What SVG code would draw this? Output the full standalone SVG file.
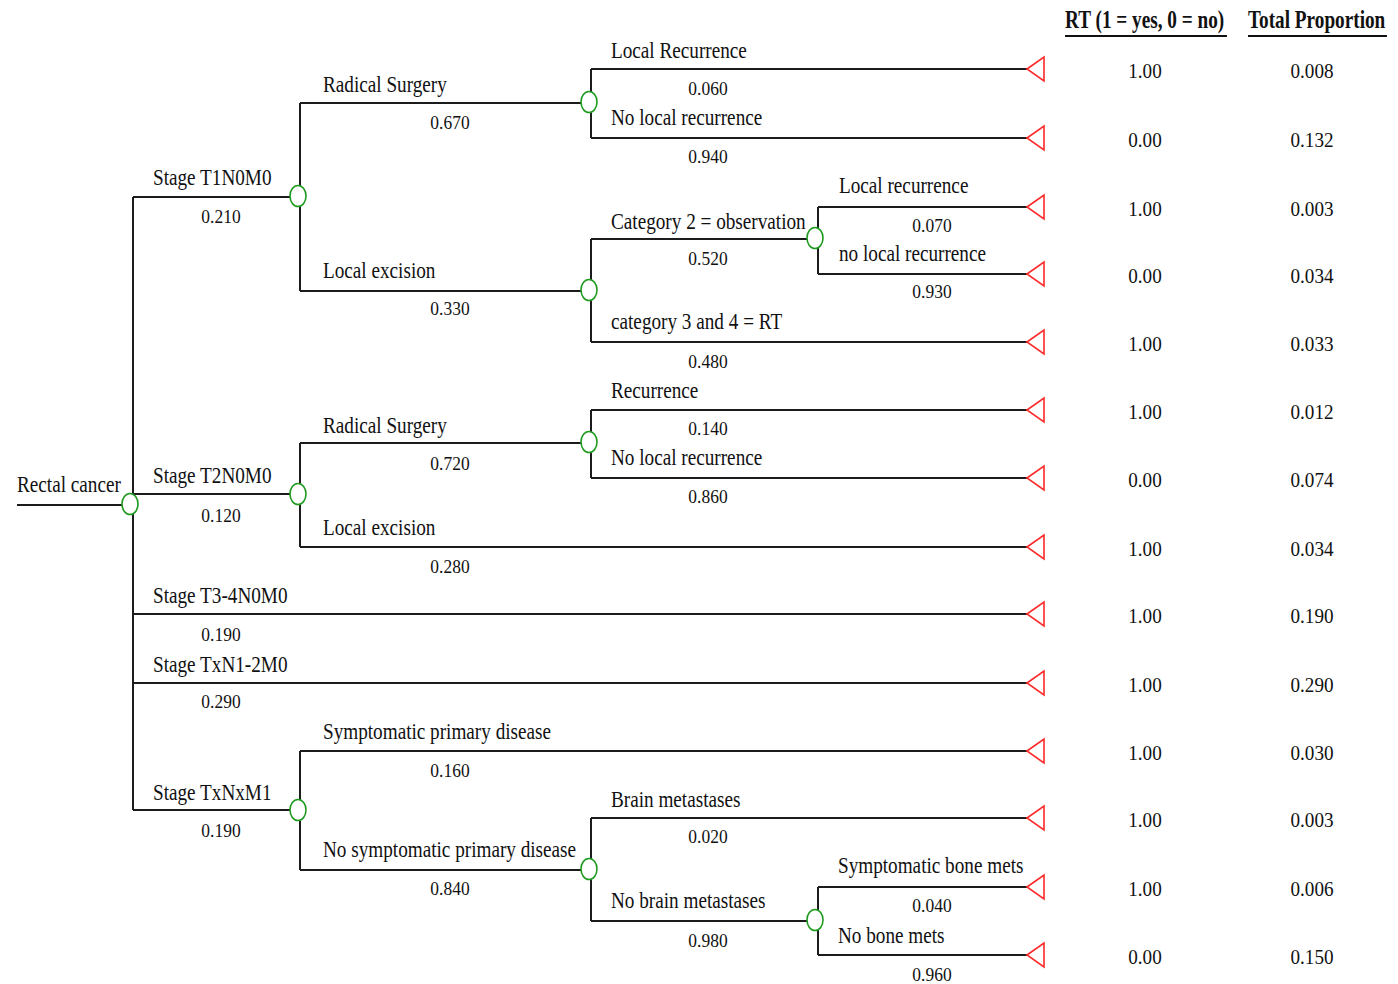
<svg xmlns="http://www.w3.org/2000/svg" width="1398" height="984" viewBox="0 0 1398 984">
<style>
.ln{stroke:#1c1c1c;stroke-width:2;fill:none}
.cn{fill:#fff;stroke:#1f9a1f;stroke-width:1.6}
.tm{fill:#fff;stroke:#ff2a2a;stroke-width:1.6}
text{font-family:"Liberation Serif","Times New Roman",serif;fill:#111}
.lb{font-size:24px}
.pr{font-size:19px;text-anchor:middle}
.vl{font-size:22px;text-anchor:middle}
.hd{font-size:26px;font-weight:bold}
</style>
<rect width="1398" height="984" fill="#fff"/>
<g id="connectors">
<path class="ln" d="M17 505H130"/>
<path class="ln" d="M133 197V810"/>
<path class="ln" d="M133 197H298M133 494H298M133 614H1027M133 683H1027M133 810H298"/>
<path class="ln" d="M300 103V291M300 103H589M300 291H589"/>
<path class="ln" d="M591 69V138M591 69H1027M591 138H1027"/>
<path class="ln" d="M591 239V342M591 239H815M591 342H1027"/>
<path class="ln" d="M818 207V274M818 207H1027M818 274H1027"/>
<path class="ln" d="M300 443V547M300 443H589M300 547H1027"/>
<path class="ln" d="M591 410V478M591 410H1027M591 478H1027"/>
<path class="ln" d="M300 751V870M300 751H1027M300 870H589"/>
<path class="ln" d="M591 818V921M591 818H1027M591 921H815"/>
<path class="ln" d="M818 887V955M818 887H1027M818 955H1027"/>
</g>
<g id="chance-nodes">
<g id="n-root"><ellipse class="cn" cx="130" cy="504" rx="8" ry="10.5"/></g>
<g id="n-t1"><ellipse class="cn" cx="298" cy="196" rx="8" ry="10.5"/></g>
<g id="n-t1-rs"><ellipse class="cn" cx="589" cy="102" rx="8" ry="10.5"/></g>
<g id="n-t1-le"><ellipse class="cn" cx="589" cy="290" rx="8" ry="10.5"/></g>
<g id="n-cat2"><ellipse class="cn" cx="815" cy="238" rx="8" ry="10.5"/></g>
<g id="n-t2"><ellipse class="cn" cx="298" cy="494" rx="8" ry="10.5"/></g>
<g id="n-t2-rs"><ellipse class="cn" cx="589" cy="442" rx="8" ry="10.5"/></g>
<g id="n-m1"><ellipse class="cn" cx="298" cy="810" rx="8" ry="10.5"/></g>
<g id="n-nosymp"><ellipse class="cn" cx="589" cy="869" rx="8" ry="10.5"/></g>
<g id="n-nobrain"><ellipse class="cn" cx="815" cy="920" rx="8" ry="10.5"/></g>
</g>
<g id="terminal-nodes">
<g id="t1"><polygon class="tm" points="1027,69 1044,57 1044,81"/></g>
<g id="t2"><polygon class="tm" points="1027,138 1044,126 1044,150"/></g>
<g id="t3"><polygon class="tm" points="1027,207 1044,195 1044,219"/></g>
<g id="t4"><polygon class="tm" points="1027,274 1044,262 1044,286"/></g>
<g id="t5"><polygon class="tm" points="1027,342 1044,330 1044,354"/></g>
<g id="t6"><polygon class="tm" points="1027,410 1044,398 1044,422"/></g>
<g id="t7"><polygon class="tm" points="1027,478 1044,466 1044,490"/></g>
<g id="t8"><polygon class="tm" points="1027,547 1044,535 1044,559"/></g>
<g id="t9"><polygon class="tm" points="1027,614 1044,602 1044,626"/></g>
<g id="t10"><polygon class="tm" points="1027,683 1044,671 1044,695"/></g>
<g id="t11"><polygon class="tm" points="1027,751 1044,739 1044,763"/></g>
<g id="t12"><polygon class="tm" points="1027,818 1044,806 1044,830"/></g>
<g id="t13"><polygon class="tm" points="1027,887 1044,875 1044,899"/></g>
<g id="t14"><polygon class="tm" points="1027,955 1044,943 1044,967"/></g>
</g>
<g id="branch-labels">
<text class="lb" x="17" y="492" transform="matrix(0.8 0 0 1 3.4 0)">Rectal cancer</text>
<text class="lb" x="153" y="185" transform="matrix(0.8 0 0 1 30.6 0)">Stage T1N0M0</text>
<text class="lb" x="153" y="483" transform="matrix(0.8 0 0 1 30.6 0)">Stage T2N0M0</text>
<text class="lb" x="153" y="603" transform="matrix(0.8 0 0 1 30.6 0)">Stage T3-4N0M0</text>
<text class="lb" x="153" y="672" transform="matrix(0.8 0 0 1 30.6 0)">Stage TxN1-2M0</text>
<text class="lb" x="153" y="800" transform="matrix(0.8 0 0 1 30.6 0)">Stage TxNxM1</text>
<text class="lb" x="323" y="92" transform="matrix(0.8 0 0 1 64.6 0)">Radical Surgery</text>
<text class="lb" x="323" y="278" transform="matrix(0.8 0 0 1 64.6 0)">Local excision</text>
<text class="lb" x="323" y="433" transform="matrix(0.8 0 0 1 64.6 0)">Radical Surgery</text>
<text class="lb" x="323" y="535" transform="matrix(0.8 0 0 1 64.6 0)">Local excision</text>
<text class="lb" x="323" y="739" transform="matrix(0.8 0 0 1 64.6 0)">Symptomatic primary disease</text>
<text class="lb" x="323" y="857" transform="matrix(0.8 0 0 1 64.6 0)">No symptomatic primary disease</text>
<text class="lb" x="611" y="58" transform="matrix(0.8 0 0 1 122.2 0)">Local Recurrence</text>
<text class="lb" x="611" y="125" transform="matrix(0.8 0 0 1 122.2 0)">No local recurrence</text>
<text class="lb" x="611" y="229" transform="matrix(0.8 0 0 1 122.2 0)">Category 2 = observation</text>
<text class="lb" x="611" y="329" transform="matrix(0.8 0 0 1 122.2 0)">category 3 and 4 = RT</text>
<text class="lb" x="611" y="398" transform="matrix(0.8 0 0 1 122.2 0)">Recurrence</text>
<text class="lb" x="611" y="465" transform="matrix(0.8 0 0 1 122.2 0)">No local recurrence</text>
<text class="lb" x="611" y="807" transform="matrix(0.8 0 0 1 122.2 0)">Brain metastases</text>
<text class="lb" x="611" y="908" transform="matrix(0.8 0 0 1 122.2 0)">No brain metastases</text>
<text class="lb" x="839" y="193" transform="matrix(0.8 0 0 1 167.8 0)">Local recurrence</text>
<text class="lb" x="839" y="261" transform="matrix(0.8 0 0 1 167.8 0)">no local recurrence</text>
<text class="lb" x="838" y="873" transform="matrix(0.8 0 0 1 167.6 0)">Symptomatic bone mets</text>
<text class="lb" x="838" y="943" transform="matrix(0.8 0 0 1 167.6 0)">No bone mets</text>
</g>
<g id="probabilities">
<text class="pr" x="221" y="223" transform="matrix(0.92 0 0 1 17.68 0)">0.210</text>
<text class="pr" x="221" y="522" transform="matrix(0.92 0 0 1 17.68 0)">0.120</text>
<text class="pr" x="221" y="641" transform="matrix(0.92 0 0 1 17.68 0)">0.190</text>
<text class="pr" x="221" y="708" transform="matrix(0.92 0 0 1 17.68 0)">0.290</text>
<text class="pr" x="221" y="837" transform="matrix(0.92 0 0 1 17.68 0)">0.190</text>
<text class="pr" x="450" y="129" transform="matrix(0.92 0 0 1 36 0)">0.670</text>
<text class="pr" x="450" y="315" transform="matrix(0.92 0 0 1 36 0)">0.330</text>
<text class="pr" x="450" y="470" transform="matrix(0.92 0 0 1 36 0)">0.720</text>
<text class="pr" x="450" y="573" transform="matrix(0.92 0 0 1 36 0)">0.280</text>
<text class="pr" x="450" y="777" transform="matrix(0.92 0 0 1 36 0)">0.160</text>
<text class="pr" x="450" y="895" transform="matrix(0.92 0 0 1 36 0)">0.840</text>
<text class="pr" x="708" y="95" transform="matrix(0.92 0 0 1 56.64 0)">0.060</text>
<text class="pr" x="708" y="163" transform="matrix(0.92 0 0 1 56.64 0)">0.940</text>
<text class="pr" x="708" y="265" transform="matrix(0.92 0 0 1 56.64 0)">0.520</text>
<text class="pr" x="708" y="368" transform="matrix(0.92 0 0 1 56.64 0)">0.480</text>
<text class="pr" x="708" y="435" transform="matrix(0.92 0 0 1 56.64 0)">0.140</text>
<text class="pr" x="708" y="503" transform="matrix(0.92 0 0 1 56.64 0)">0.860</text>
<text class="pr" x="708" y="843" transform="matrix(0.92 0 0 1 56.64 0)">0.020</text>
<text class="pr" x="708" y="947" transform="matrix(0.92 0 0 1 56.64 0)">0.980</text>
<text class="pr" x="932" y="232" transform="matrix(0.92 0 0 1 74.56 0)">0.070</text>
<text class="pr" x="932" y="298" transform="matrix(0.92 0 0 1 74.56 0)">0.930</text>
<text class="pr" x="932" y="912" transform="matrix(0.92 0 0 1 74.56 0)">0.040</text>
<text class="pr" x="932" y="981" transform="matrix(0.92 0 0 1 74.56 0)">0.960</text>
</g>
<g id="header">
<text class="hd" x="1065" y="28" transform="matrix(0.74 0 0 1 276.9 0)">RT (1 = yes, 0 = no)</text>
<text class="hd" x="1248" y="28" transform="matrix(0.74 0 0 1 324.48 0)">Total Proportion</text>
<path d="M1065 36H1227M1248 36H1387" stroke="#111" stroke-width="2"/>
</g>
<g id="rt-values">
<text class="vl" x="1145" y="78" transform="matrix(0.87 0 0 1 148.85 0)">1.00</text>
<text class="vl" x="1145" y="147" transform="matrix(0.87 0 0 1 148.85 0)">0.00</text>
<text class="vl" x="1145" y="216" transform="matrix(0.87 0 0 1 148.85 0)">1.00</text>
<text class="vl" x="1145" y="283" transform="matrix(0.87 0 0 1 148.85 0)">0.00</text>
<text class="vl" x="1145" y="351" transform="matrix(0.87 0 0 1 148.85 0)">1.00</text>
<text class="vl" x="1145" y="419" transform="matrix(0.87 0 0 1 148.85 0)">1.00</text>
<text class="vl" x="1145" y="487" transform="matrix(0.87 0 0 1 148.85 0)">0.00</text>
<text class="vl" x="1145" y="556" transform="matrix(0.87 0 0 1 148.85 0)">1.00</text>
<text class="vl" x="1145" y="623" transform="matrix(0.87 0 0 1 148.85 0)">1.00</text>
<text class="vl" x="1145" y="692" transform="matrix(0.87 0 0 1 148.85 0)">1.00</text>
<text class="vl" x="1145" y="760" transform="matrix(0.87 0 0 1 148.85 0)">1.00</text>
<text class="vl" x="1145" y="827" transform="matrix(0.87 0 0 1 148.85 0)">1.00</text>
<text class="vl" x="1145" y="896" transform="matrix(0.87 0 0 1 148.85 0)">1.00</text>
<text class="vl" x="1145" y="964" transform="matrix(0.87 0 0 1 148.85 0)">0.00</text>
</g>
<g id="proportion-values">
<text class="vl" x="1312" y="78" transform="matrix(0.87 0 0 1 170.56 0)">0.008</text>
<text class="vl" x="1312" y="147" transform="matrix(0.87 0 0 1 170.56 0)">0.132</text>
<text class="vl" x="1312" y="216" transform="matrix(0.87 0 0 1 170.56 0)">0.003</text>
<text class="vl" x="1312" y="283" transform="matrix(0.87 0 0 1 170.56 0)">0.034</text>
<text class="vl" x="1312" y="351" transform="matrix(0.87 0 0 1 170.56 0)">0.033</text>
<text class="vl" x="1312" y="419" transform="matrix(0.87 0 0 1 170.56 0)">0.012</text>
<text class="vl" x="1312" y="487" transform="matrix(0.87 0 0 1 170.56 0)">0.074</text>
<text class="vl" x="1312" y="556" transform="matrix(0.87 0 0 1 170.56 0)">0.034</text>
<text class="vl" x="1312" y="623" transform="matrix(0.87 0 0 1 170.56 0)">0.190</text>
<text class="vl" x="1312" y="692" transform="matrix(0.87 0 0 1 170.56 0)">0.290</text>
<text class="vl" x="1312" y="760" transform="matrix(0.87 0 0 1 170.56 0)">0.030</text>
<text class="vl" x="1312" y="827" transform="matrix(0.87 0 0 1 170.56 0)">0.003</text>
<text class="vl" x="1312" y="896" transform="matrix(0.87 0 0 1 170.56 0)">0.006</text>
<text class="vl" x="1312" y="964" transform="matrix(0.87 0 0 1 170.56 0)">0.150</text>
</g>
</svg>
